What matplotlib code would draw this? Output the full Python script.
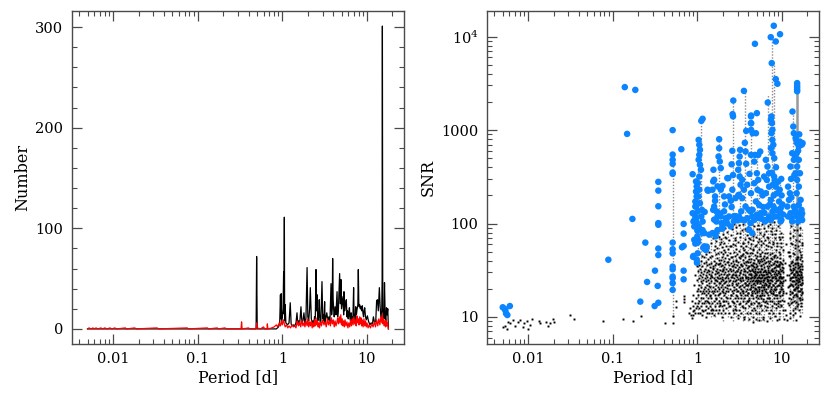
import numpy as np
import matplotlib
matplotlib.use("Agg")
import matplotlib.pyplot as plt
from matplotlib.ticker import FixedLocator, FixedFormatter, LogLocator, NullFormatter, MultipleLocator

plt.rcParams['font.family'] = ['DejaVu Serif']
plt.rcParams['mathtext.fontset'] = 'dejavuserif'

# ---------------- Left panel: histogram of periods ----------------
hist_period = [0.005, 0.3, 0.45, 0.49, 0.497, 0.505, 0.55, 0.85, 0.9, 0.93, 0.95, 0.96, 0.97, 0.98, 1.0, 1.02,
               1.036, 1.045, 1.056, 1.065, 1.08, 1.1, 1.15, 1.2, 1.24, 1.27, 1.3, 1.35, 1.4, 1.45, 1.49,
               1.52, 1.56, 1.6, 1.66, 1.7, 1.75, 1.8, 1.85, 1.9, 1.96, 2.0, 2.05, 2.1, 2.14, 2.2, 2.25,
               2.3, 2.35, 2.4, 2.45, 2.5, 2.54, 2.57, 2.62, 2.68, 2.73, 2.78, 2.85, 2.94, 3.0, 3.05, 3.1,
               3.16, 3.2, 3.25, 3.35, 3.45, 3.55, 3.65, 3.76, 3.82, 3.88, 3.93, 3.98, 4.05, 4.1, 4.2, 4.3,
               4.43, 4.5, 4.6, 4.75, 4.85, 4.93, 5.0, 5.1, 5.2, 5.3, 5.35, 5.45, 5.55, 5.7, 5.8, 5.9, 6.0,
               6.1, 6.2, 6.3, 6.4, 6.5, 6.6, 6.7, 6.8, 6.95, 7.05, 7.15, 7.25, 7.35, 7.5, 7.65, 7.8, 7.9,
               8.0, 8.1, 8.2, 8.35, 8.5, 8.65, 8.8, 8.95, 9.1, 9.25, 9.4, 9.6, 9.8, 10.1, 10.4, 10.8, 11.2,
               11.6, 11.9, 12.3, 12.7, 13.0, 13.3, 13.6, 14.0, 14.3, 14.6, 14.9, 15.1, 15.2, 15.35, 15.6,
               15.85, 16.1, 16.4, 16.7, 17.0, 17.3, 17.6, 17.9]
hist_all = [0, 0, 0, 0, 72, 0, 0, 0, 2, 5, 34, 10, 35, 8, 12, 20,
            57, 15, 111, 8, 24, 6, 4, 6, 26, 5, 3, 4, 3, 6, 16,
            5, 8, 4, 22, 6, 8, 16, 5, 10, 61, 12, 8, 20, 41, 10, 6,
            8, 5, 12, 10, 59, 18, 34, 8, 12, 29, 8, 6, 47, 10, 14, 8,
            27, 6, 10, 16, 8, 12, 7, 45, 14, 20, 70, 30, 18, 12, 22, 14,
            37, 12, 20, 55, 25, 49, 20, 26, 32, 14, 37, 18, 24, 29, 12, 18, 10,
            14, 21, 10, 8, 16, 8, 12, 6, 41, 10, 14, 9, 22, 14, 20, 24, 59,
            26, 22, 24, 20, 22, 18, 23, 16, 12, 18, 21, 12, 9, 13, 8, 4, 6,
            5, 12, 6, 8, 28, 29, 18, 41, 22, 12, 10, 50, 301, 20, 14,
            10, 46, 12, 8, 21, 14, 20, 0]

red_period = [0.005, 0.0052, 0.0055, 0.0058, 0.006, 0.0063, 0.0066, 0.0072, 0.0075, 0.008, 0.0085, 0.0092,
              0.0097, 0.0105, 0.011, 0.014, 0.0145, 0.018, 0.019, 0.033, 0.035, 0.075, 0.078, 0.13, 0.135,
              0.17, 0.175, 0.21, 0.22, 0.325, 0.33, 0.335, 0.4, 0.41, 0.49, 0.497, 0.505, 0.55, 0.6, 0.62,
              0.66, 0.665, 0.675,
              0.75, 0.8, 0.85, 0.88, 0.92, 0.95, 0.98, 1.0, 1.03, 1.056, 1.08, 1.12, 1.16, 1.2, 1.25, 1.3,
              1.35, 1.4, 1.45, 1.5, 1.55, 1.6, 1.65, 1.7, 1.75, 1.8, 1.85, 1.9, 1.96, 2.0, 2.05, 2.1, 2.15,
              2.2, 2.25, 2.3, 2.35, 2.4, 2.45, 2.5, 2.55, 2.6, 2.65, 2.7, 2.75, 2.8, 2.9, 3.0, 3.1, 3.2,
              3.3, 3.4, 3.5, 3.6, 3.7, 3.8, 3.9, 4.0, 4.1, 4.2, 4.3, 4.4, 4.5, 4.6, 4.7, 4.8, 4.9, 5.0,
              5.1, 5.2, 5.3, 5.4, 5.5, 5.65, 5.8, 5.95, 6.1, 6.25, 6.4, 6.55, 6.7, 6.85, 7.0, 7.15, 7.3,
              7.45, 7.6, 7.75, 7.9, 8.05, 8.2, 8.35, 8.5, 8.65, 8.8, 9.0, 9.2, 9.4, 9.6, 9.8, 10.0, 10.3,
              10.6, 11.0, 11.4, 11.8, 12.2, 12.6, 13.0, 13.4, 13.8, 14.2, 14.6, 15.0, 15.2, 15.4, 15.7,
              16.0, 16.3, 16.6, 16.9, 17.2, 17.5, 17.9]
red_count = [0, 1, 0, 1, 0, 1, 0, 1, 0, 1, 0, 1,
             0, 1, 0, 1, 0, 1, 0, 1, 0, 1, 0, 1, 0,
             1, 0, 1, 0, 0, 7, 0, 1, 0, 0, 6, 1, 0, 2, 0,
             0, 5, 0,
             1, 2, 4, 2, 6, 3, 8, 4, 9, 5, 2, 4, 1, 3, 1, 4,
             2, 3, 1, 8, 3, 7, 2, 9, 3, 6, 2, 8, 3, 10, 2, 7, 3,
             8, 1, 6, 2, 9, 3, 11, 4, 8, 2, 6, 1, 7, 3, 9, 4, 7,
             2, 10, 4, 8, 3, 11, 5, 9, 2, 8, 3, 6, 11, 5, 12, 6, 14, 4,
             10, 3, 8, 2, 9, 3, 7, 1, 6, 2, 9, 3, 10, 4, 12, 5, 9,
             3, 13, 6, 10, 4, 12, 5, 11, 3, 9, 2, 10, 3, 8, 2, 6, 1,
             4, 1, 5, 2, 7, 2, 9, 3, 10, 4, 12, 6, 15, 5, 10,
             3, 8, 2, 9, 3, 6, 0]

# ---------------- Right panel: SNR vs period ----------------
black_pts = [
    (0.00508, 7.8), (0.0054, 8.0), (0.00566, 7.4), (0.00582, 8.9), (0.0062, 8.6), (0.00667, 9.3), (0.0071, 8.0),
    (0.00755, 8.9), (0.00813, 9.3), (0.00875, 7.8), (0.00906, 8.6), (0.0096, 9.1), (0.00993, 7.5), (0.01067, 8.15),
    (0.0112, 9.45), (0.01337, 9.1), (0.01374, 8.6), (0.0165, 8.8), (0.0171, 8.0), (0.01837, 8.6), (0.0198, 9.45),
    (0.0201, 8.8), (0.0317, 10.4), (0.0347, 9.45), (0.0762, 9.1), (0.1327, 9.45), (0.174, 9.0), (0.218, 10.3),
    (0.419, 8.7), (0.511, 10.3), (0.511, 8.7), (0.565, 15), (0.565, 12.7), (0.689, 16.8), (0.689, 15.7), (0.689, 14.6),
    (0.80, 11), (0.82, 12.5), (0.84, 10.5), (0.86, 9.8), (0.87, 15),
    (0.88, 11.5), (0.89, 13), (0.9, 10.5), (0.9, 17), (0.91, 12), (0.92, 22), (0.93, 14), (0.94, 11), (0.95, 28),
    (0.96, 16), (0.97, 12.5), (0.98, 35), (0.99, 19), (0.99, 13), (1.0, 25),
    (1.01, 14), (1.01, 31), (1.02, 20), (1.02, 11), (1.03, 42), (1.03, 17), (1.04, 26), (1.04, 12.5), (1.05, 36),
    (1.05, 22), (1.06, 15), (1.06, 48), (1.07, 19), (1.07, 28), (1.08, 11), (1.08, 33), (1.09, 24), (1.09, 16),
    (1.10, 40), (1.10, 13), (1.11, 21), (1.11, 30), (1.12, 18), (1.12, 10.5), (1.13, 27), (1.13, 45), (1.14, 14),
    (1.14, 23), (1.15, 35), (1.15, 12), (1.16, 19), (1.16, 29), (1.17, 16), (1.17, 52), (1.18, 25), (1.18, 11.5),
    (1.19, 38), (1.19, 20), (1.20, 14), (1.20, 31),
    (1.21, 18), (1.21, 44), (1.22, 12), (1.22, 26), (1.23, 33), (1.23, 15), (1.24, 58), (1.24, 21), (1.25, 10),
    (1.25, 28), (1.26, 17), (1.26, 39), (1.27, 24), (1.27, 13), (1.28, 47), (1.28, 19), (1.29, 30), (1.29, 11),
    (1.30, 22), (1.30, 36), (1.31, 15), (1.31, 27), (1.32, 55), (1.32, 18), (1.33, 12.5), (1.33, 32), (1.34, 25),
    (1.34, 42), (1.35, 16), (1.35, 20), (1.36, 11), (1.36, 29), (1.37, 37), (1.37, 14), (1.38, 23), (1.38, 50),
    (1.39, 19), (1.39, 31), (1.40, 13), (1.40, 26), (1.41, 44), (1.42, 17), (1.42, 34), (1.43, 21), (1.44, 12),
    (1.44, 28),
    (1.45, 38), (1.46, 16), (1.46, 62), (1.47, 24), (1.48, 11), (1.48, 30), (1.49, 19), (1.50, 45), (1.50, 14),
    (1.51, 27), (1.52, 35), (1.52, 21), (1.53, 70), (1.54, 12), (1.54, 33), (1.55, 18), (1.56, 26), (1.56, 52),
    (1.57, 15), (1.58, 40), (1.58, 23), (1.59, 10.5), (1.60, 29), (1.60, 17), (1.61, 58), (1.62, 36), (1.62, 20),
    (1.63, 13), (1.64, 47), (1.64, 25), (1.65, 31), (1.66, 16), (1.66, 22), (1.67, 65), (1.68, 12), (1.68, 38),
    (1.69, 27), (1.70, 19), (1.70, 43), (1.71, 14), (1.72, 33), (1.72, 24), (1.73, 55), (1.74, 11), (1.74, 21),
    (1.75, 30), (1.76, 17), (1.76, 48), (1.77, 26), (1.78, 13), (1.78, 37), (1.79, 72), (1.79, 20), (1.80, 28),
    (1.80, 15),
    (1.81, 41), (1.82, 23), (1.82, 12), (1.83, 60), (1.84, 18), (1.84, 32), (1.85, 26), (1.86, 14), (1.86, 85),
    (1.87, 38), (1.88, 21), (1.88, 11), (1.89, 50), (1.90, 29), (1.90, 16), (1.91, 35), (1.92, 24), (1.92, 68),
    (1.93, 13), (1.94, 44), (1.94, 19), (1.95, 31), (1.96, 10), (1.96, 27), (1.97, 56), (1.98, 22), (1.98, 36),
    (1.99, 15), (2.00, 78), (2.00, 25), (2.01, 33), (2.02, 12), (2.02, 47), (2.03, 20), (2.04, 29), (2.05, 17),
    (2.05, 62), (2.06, 40), (2.07, 23), (2.08, 13.5), (2.08, 34), (2.09, 52), (2.10, 26), (2.11, 18), (2.11, 90),
    (2.12, 30), (2.13, 11), (2.14, 43), (2.14, 21), (2.15, 37), (2.16, 15), (2.17, 58), (2.17, 27), (2.18, 24),
    (2.19, 70), (2.20, 19), (2.20, 33), (2.21, 12.5), (2.22, 46), (2.23, 28), (2.24, 16), (2.25, 39), (2.26, 22),
    (2.27, 82), (2.28, 31),
    (2.30, 14), (2.31, 26), (2.32, 53), (2.33, 19), (2.34, 36), (2.35, 11), (2.36, 29), (2.37, 66), (2.38, 22),
    (2.39, 42), (2.40, 16), (2.41, 33), (2.42, 95), (2.43, 25), (2.44, 13), (2.45, 48), (2.46, 20), (2.47, 31),
    (2.48, 75), (2.49, 17), (2.50, 38), (2.51, 27), (2.52, 10), (2.53, 57), (2.54, 23), (2.55, 35), (2.56, 15),
    (2.57, 44), (2.58, 28), (2.59, 88), (2.60, 19), (2.61, 32), (2.62, 12), (2.63, 61), (2.64, 24), (2.65, 40),
    (2.66, 18), (2.67, 29), (2.68, 100), (2.69, 14), (2.70, 50), (2.71, 26), (2.72, 21), (2.73, 37), (2.74, 11),
    (2.75, 70), (2.76, 30), (2.77, 16), (2.78, 45), (2.79, 24), (2.80, 34), (2.81, 13), (2.82, 59), (2.83, 20),
    (2.84, 28), (2.85, 92), (2.86, 17), (2.87, 41), (2.88, 25), (2.89, 12), (2.90, 54), (2.91, 31), (2.92, 22),
    (2.93, 36), (2.94, 15), (2.95, 80), (2.96, 27), (2.97, 19), (2.98, 47), (2.99, 10.5), (3.00, 33),
    (3.02, 23), (3.03, 64), (3.05, 16), (3.06, 39), (3.07, 28), (3.09, 12), (3.10, 51), (3.11, 21), (3.13, 34),
    (3.14, 96), (3.15, 18), (3.17, 43), (3.18, 26), (3.20, 14), (3.21, 72), (3.22, 30), (3.24, 20), (3.25, 37),
    (3.27, 11), (3.28, 57), (3.29, 24), (3.31, 32), (3.32, 17), (3.34, 85), (3.35, 46), (3.36, 27), (3.38, 13),
    (3.39, 35), (3.41, 22), (3.42, 62), (3.44, 19), (3.45, 29), (3.46, 41), (3.48, 15), (3.49, 100), (3.51, 25),
    (3.52, 33), (3.54, 10), (3.55, 52), (3.57, 21), (3.58, 38), (3.60, 16), (3.61, 68), (3.63, 28), (3.64, 23),
    (3.66, 44), (3.67, 12.5), (3.69, 31), (3.70, 88), (3.72, 19), (3.73, 36), (3.75, 26), (3.76, 14), (3.78, 58),
    (3.79, 22), (3.81, 40), (3.82, 17), (3.84, 30), (3.85, 76), (3.87, 24), (3.88, 11), (3.90, 48), (3.91, 20),
    (3.93, 34), (3.94, 15), (3.96, 63), (3.97, 27), (3.99, 39), (3.05, 9.8), (3.6, 9.5), (3.3, 45), (3.5, 18),
    (3.8, 27), (3.15, 25), (3.45, 55), (3.75, 50), (3.95, 22),
    (4.01, 18), (4.02, 92), (4.04, 29), (4.05, 13), (4.07, 45), (4.08, 23), (4.10, 35), (4.12, 16), (4.13, 70),
    (4.15, 26), (4.16, 39), (4.18, 20), (4.20, 11), (4.21, 55), (4.23, 31), (4.24, 24), (4.26, 85), (4.28, 17),
    (4.29, 42), (4.31, 28), (4.33, 14), (4.34, 60), (4.36, 22), (4.37, 36), (4.39, 19), (4.41, 100), (4.42, 27),
    (4.44, 12), (4.46, 48), (4.47, 33), (4.49, 21), (4.51, 66), (4.52, 16), (4.54, 38), (4.56, 25), (4.57, 10),
    (4.59, 52), (4.61, 30), (4.62, 19), (4.64, 78), (4.66, 23), (4.67, 41), (4.69, 14), (4.71, 34), (4.72, 95),
    (4.74, 27), (4.76, 18), (4.78, 46), (4.79, 22), (4.81, 12), (4.83, 58), (4.84, 31), (4.86, 24), (4.88, 37),
    (4.90, 15), (4.91, 72), (4.93, 28), (4.95, 20), (4.97, 43), (4.98, 11), (5.00, 88), (5.02, 26), (5.04, 35),
    (5.05, 17), (5.07, 50), (5.09, 23), (5.11, 30), (5.12, 13), (5.14, 64), (5.16, 21), (5.18, 40), (5.20, 16),
    (4.05, 32), (4.15, 48), (4.25, 21), (4.35, 29), (4.45, 17), (4.55, 31), (4.65, 26), (4.75, 33), (4.85, 20),
    (4.95, 29), (5.05, 24), (5.15, 27), (4.1, 9.5), (4.5, 8.8), (4.9, 9.6), (4.3, 26), (4.6, 35), (4.8, 28),
    (5.1, 19),
    (5.22, 33), (5.24, 97), (5.26, 25), (5.28, 14), (5.30, 54), (5.32, 20), (5.34, 38), (5.36, 28), (5.39, 11),
    (5.41, 68), (5.43, 23), (5.45, 31), (5.47, 17), (5.49, 45), (5.51, 80), (5.54, 26), (5.56, 13), (5.58, 36),
    (5.60, 21), (5.62, 59), (5.65, 29), (5.67, 16), (5.69, 42), (5.71, 24), (5.74, 100), (5.76, 19), (5.78, 33),
    (5.80, 12), (5.83, 50), (5.85, 27), (5.87, 22), (5.90, 74), (5.92, 15), (5.94, 37), (5.97, 25), (5.99, 30),
    (6.02, 10), (6.04, 62), (6.07, 20), (6.09, 41), (6.12, 28), (6.14, 17), (6.17, 90), (6.19, 34), (6.22, 23),
    (6.24, 13), (6.27, 48), (6.29, 26), (6.32, 19), (6.34, 66), (6.37, 31), (6.40, 15), (6.42, 39), (6.45, 22),
    (6.48, 84), (6.50, 27), (6.53, 12), (6.55, 53), (6.58, 18), (6.61, 35), (6.63, 24), (6.66, 71), (6.69, 29),
    (6.72, 14), (6.74, 44), (6.77, 21), (6.80, 95), (6.83, 32), (6.86, 17), (6.89, 57), (6.91, 25), (6.94, 11),
    (6.97, 38), (5.3, 24), (5.5, 30), (5.7, 26), (5.9, 21), (6.1, 25), (6.3, 32), (6.5, 20), (6.7, 27), (6.9, 30),
    (5.4, 19), (5.6, 35), (5.8, 18), (6.0, 28), (6.2, 22), (6.4, 30), (6.6, 16), (6.8, 24), (5.35, 9.2),
    (5.95, 9.6), (6.6, 9.0), (5.25, 41), (5.55, 47), (5.85, 40), (6.15, 45), (6.45, 43), (6.75, 40),
    (7.00, 22), (7.04, 64), (7.08, 30), (7.12, 16), (7.16, 47), (7.20, 25), (7.24, 100), (7.28, 19), (7.32, 36),
    (7.36, 12), (7.40, 56), (7.44, 28), (7.48, 21), (7.52, 78), (7.56, 33), (7.60, 15), (7.64, 42), (7.68, 24),
    (7.72, 90), (7.76, 18), (7.80, 31), (7.84, 11), (7.88, 60), (7.92, 27), (7.96, 38), (8.00, 20), (8.04, 105),
    (8.08, 14), (8.12, 45), (8.16, 26), (8.20, 34), (8.24, 17), (8.28, 70), (8.32, 23), (8.36, 40), (8.40, 12.5),
    (8.45, 52), (8.50, 29), (8.55, 20), (8.60, 86), (8.65, 35), (8.70, 16), (8.75, 44), (8.80, 25), (8.85, 62),
    (8.90, 13), (8.95, 31), (9.00, 22), (9.05, 95), (9.10, 37), (9.15, 18), (9.20, 50), (9.25, 27), (9.30, 11),
    (9.35, 68), (9.40, 24), (9.45, 33), (9.50, 15), (9.55, 47), (9.60, 29), (9.65, 80), (9.70, 20), (9.75, 38),
    (9.80, 13), (9.85, 56), (9.90, 26), (9.95, 34), (10.0, 17), (10.05, 72), (10.1, 23), (10.15, 41), (10.2, 12),
    (10.25, 30), (10.3, 52), (10.35, 19), (10.4, 27), (10.45, 9.5), (7.1, 27), (7.3, 23), (7.5, 32), (7.7, 27),
    (7.9, 22), (8.1, 29), (8.3, 30), (8.5, 24), (8.7, 28), (8.9, 35), (9.1, 26), (9.3, 30), (9.5, 23), (9.7, 27),
    (9.9, 22), (7.2, 40), (7.6, 48), (8.0, 44), (8.4, 36), (8.8, 40), (9.2, 35), (9.6, 39), (10.0, 32), (7.4, 18),
    (7.8, 19), (8.2, 21), (8.6, 17), (9.0, 15), (9.4, 19), (9.8, 21), (7.3, 9.8), (8.3, 10.2), (9.3, 9.6),
    (8.8, 9.2),
    (10.6, 15), (10.8, 25), (10.9, 12), (11.0, 38), (11.2, 18), (11.3, 10.5), (11.5, 28), (11.7, 14), (11.8, 50),
    (11.9, 21), (11.6, 9.2), (11.1, 60),
    (12.0, 16), (12.1, 45), (12.2, 28), (12.3, 11), (12.4, 70), (12.5, 22), (12.6, 35), (12.7, 14), (12.8, 95),
    (12.9, 26), (13.0, 40), (13.1, 18), (13.2, 60), (13.3, 30), (13.4, 12), (13.5, 48), (13.6, 24), (13.7, 85),
    (13.8, 20), (13.9, 33), (14.0, 15), (14.1, 55), (14.2, 27), (14.3, 38), (14.4, 11), (14.5, 66), (14.6, 23),
    (14.7, 31), (14.8, 17), (14.9, 100), (15.0, 44), (15.1, 25), (15.2, 13), (15.3, 36), (15.4, 58), (15.5, 21),
    (15.6, 29), (15.7, 16), (15.8, 75), (15.9, 34), (16.0, 24), (16.1, 12), (16.2, 50), (16.3, 27), (16.4, 19),
    (16.5, 90), (16.6, 37), (16.7, 22), (16.8, 14), (16.9, 46), (17.0, 30), (17.1, 18), (17.2, 62), (17.3, 25),
    (17.4, 40), (12.2, 50), (12.6, 26), (13.0, 22), (13.4, 32), (13.8, 28), (14.2, 20), (14.6, 42), (15.0, 30),
    (15.4, 19), (15.8, 24), (16.2, 33), (16.6, 26), (17.0, 20), (12.4, 33), (12.8, 38), (13.2, 27), (13.6, 36),
    (14.0, 29), (14.4, 34), (14.8, 25), (15.2, 38), (15.6, 44), (16.0, 31), (16.4, 42), (16.8, 28), (17.2, 35),
    (12.5, 9.8), (13.5, 10.5), (14.5, 9.4), (16.5, 10.2), (12.3, 19), (13.1, 24), (13.9, 17), (14.7, 21),
    (15.5, 26), (16.3, 16), (17.1, 23),
]

black_pts_extra = [
    (1.32, 14.6), (1.37, 21.3), (1.43, 16.8), (1.47, 27.4), (1.51, 12.3), (1.55, 33.7), (1.58, 19.2), (1.63, 24.6),
    (1.67, 15.4), (1.71, 29.8), (1.75, 36.5), (1.78, 17.7), (1.83, 22.9), (1.87, 13.6), (1.91, 41.2), (1.95, 25.3),
    (1.99, 18.4), (2.03, 31.6), (2.07, 14.9), (2.11, 23.7), (2.15, 49.1), (2.19, 16.2), (2.23, 27.9), (2.27, 20.6),
    (2.31, 38.3), (2.35, 13.2), (2.39, 24.1), (2.43, 32.8), (2.47, 17.3), (2.51, 43.6), (2.55, 21.8), (2.59, 26.7),
    (2.63, 14.3), (2.67, 35.2), (2.71, 19.6), (2.75, 28.4), (2.79, 12.1), (2.83, 39.7), (2.87, 22.6), (2.91, 16.7),
    (2.95, 30.9), (2.99, 25.8), (3.04, 18.9), (3.08, 44.3), (3.12, 13.7), (3.16, 29.2), (3.21, 21.4), (3.26, 35.9),
    (3.31, 15.8), (3.36, 26.3), (3.41, 19.1), (3.46, 47.6), (3.51, 12.8), (3.56, 31.2), (3.61, 23.3), (3.66, 17.4),
    (3.71, 38.8), (3.76, 27.1), (3.81, 14.7), (3.86, 21.9), (3.91, 33.4), (3.96, 18.2), (4.02, 25.6), (4.07, 41.8),
    (4.12, 15.3), (4.17, 28.7), (4.22, 19.8), (4.27, 36.2), (4.32, 13.9), (4.37, 24.4), (4.42, 31.7), (4.47, 17.9),
    (4.52, 53.3), (4.57, 22.4), (4.62, 27.6), (4.67, 12.6), (4.72, 38.1), (4.77, 20.3), (4.82, 29.4), (4.87, 16.4),
    (4.92, 25.1), (4.97, 34.6), (5.03, 18.7), (5.08, 45.2), (5.13, 23.8), (5.19, 14.1), (5.25, 30.3), (5.31, 21.1),
    (5.37, 26.9), (5.43, 16.9), (5.49, 39.4), (5.55, 24.2), (5.61, 13.4), (5.67, 32.3), (5.73, 19.4), (5.79, 28.1),
    (5.85, 17.1), (5.91, 23.6), (5.97, 43.1), (6.03, 15.6), (6.09, 31.1), (6.15, 20.8), (6.21, 26.1), (6.27, 37.4),
    (6.33, 14.4), (6.39, 22.7), (6.45, 29.1), (6.51, 18.3), (6.57, 48.7), (6.63, 25.4), (6.69, 12.9), (6.75, 33.1),
    (6.81, 21.6), (6.87, 27.3), (6.93, 16.1), (7.02, 35.4), (7.09, 23.1), (7.16, 18.8), (7.23, 29.6), (7.3, 14.8),
    (7.37, 42.4), (7.44, 24.7), (7.51, 19.9), (7.58, 31.4), (7.65, 13.1), (7.72, 26.4), (7.79, 36.7), (7.86, 17.6),
    (7.93, 22.2), (8.02, 33.8), (8.1, 15.9), (8.18, 27.7), (8.26, 46.1), (8.34, 19.3), (8.42, 25.9), (8.5, 13.8),
    (8.58, 31.9), (8.66, 21.2), (8.74, 38.6), (8.82, 17.2), (8.9, 24.9), (8.98, 29.9), (9.06, 14.2), (9.14, 35.7),
    (9.22, 22.1), (9.3, 18.6), (9.38, 27.2), (9.46, 42.9), (9.54, 16.6), (9.62, 23.4), (9.7, 31.3), (9.78, 13.3),
    (9.86, 26.2), (9.94, 19.7), (10.02, 37.1), (10.1, 15.2), (10.18, 24.3), (10.26, 18.1), (10.34, 33.2),
    (12.05, 21.7), (12.15, 13.6), (12.25, 35.8), (12.35, 24.8), (12.45, 17.8), (12.55, 44.7), (12.65, 29.3),
    (12.75, 15.7), (12.85, 22.3), (12.95, 31.8), (13.05, 18.6), (13.15, 39.2), (13.25, 14.6), (13.35, 26.6),
    (13.45, 21.4), (13.55, 33.6), (13.65, 16.3), (13.75, 28.8), (13.85, 47.3), (13.95, 19.4), (14.05, 24.5),
    (14.15, 12.4), (14.25, 36.6), (14.35, 22.8), (14.45, 17.5), (14.55, 30.4), (14.65, 26.8), (14.75, 14.3),
    (14.85, 41.6), (14.95, 20.4), (15.05, 28.3), (15.15, 16.8), (15.25, 33.3), (15.35, 23.9), (15.45, 13.7),
    (15.55, 37.9), (15.65, 21.9), (15.75, 27.8), (15.85, 18.9), (15.95, 52.4), (16.05, 25.7), (16.15, 15.1),
    (16.25, 30.7), (16.35, 22.6), (16.45, 35.3), (16.55, 17.4), (16.65, 28.6), (16.75, 20.1), (16.85, 43.4),
    (16.95, 13.2), (17.05, 26.9), (17.15, 32.4), (17.25, 18.3), (17.35, 23.2), (17.45, 15.6),
    (1.9, 63.4), (2.1, 71.8), (2.45, 57.3), (2.8, 66.2), (3.15, 78.9), (3.5, 61.7), (3.85, 83.6), (4.2, 68.4),
    (4.55, 74.2), (4.9, 59.6), (5.3, 87.1), (5.7, 64.8), (6.1, 77.3), (6.5, 58.4), (6.9, 69.5), (7.35, 82.4),
    (7.8, 63.1), (8.3, 76.6), (8.8, 57.8), (9.3, 72.3), (9.8, 61.2), (12.3, 79.4), (12.9, 62.6), (13.6, 73.7),
    (14.3, 58.9), (15.0, 84.8), (15.7, 65.3), (16.4, 76.1), (17.1, 59.3),
]

# vertical streaks of grey points (period, lowest SNR, highest SNR)
grey_period = [0.511, 1.02, 1.10, 1.25, 1.45, 1.6, 1.8, 2.0, 2.3, 2.62, 2.9, 3.2, 3.45, 3.7, 4.0, 4.3, 4.6,
               5.1, 5.3, 5.6, 6.2, 6.8, 7.2, 7.7, 8.1, 8.6, 9.1, 9.5, 10.2, 12.4, 13.5, 14.2, 16.4, 17.2]
grey_lo = [10, 12, 15, 12, 10, 10, 12, 9, 10, 9, 10, 10, 9, 10, 9, 10, 9,
           9, 9, 9, 9, 10, 10, 9, 10, 10, 10, 10, 10, 10, 9, 11, 11, 11]
grey_hi = [550, 800, 1300, 60, 80, 90, 800, 100, 90, 2100, 100, 650, 100, 2600, 110, 1400, 100,
           500, 200, 100, 100, 2400, 100, 10000, 5000, 100, 100, 300, 80, 100, 1600, 100, 100, 90]
strong_period = [15.1]
strong_lo = [12]
strong_hi = [3200]

blue_pts = [
    (0.00503, 12.7), (0.0053, 12.2), (0.0055, 10.9), (0.0057, 10.5), (0.0061, 13.1), (0.0054, 11.8),
    (0.0889, 41), (0.139, 2880), (0.148, 910), (0.185, 2690), (0.171, 112), (0.212, 14.6), (0.243, 62.5),
    (0.255, 23.7), (0.313, 13.1), (0.316, 31.3), (0.340, 21.5), (0.346, 14.2),
    (0.346, 279), (0.346, 225), (0.346, 153), (0.346, 101), (0.346, 97), (0.346, 54), (0.346, 46),
    (0.511, 998), (0.511, 547), (0.511, 480), (0.511, 435), (0.511, 351), (0.511, 340), (0.511, 62.5),
    (0.511, 53), (0.511, 48), (0.511, 34.6), (0.511, 32.4), (0.511, 27), (0.511, 26), (0.511, 23), (0.511, 19.5),
    (0.647, 624), (0.689, 99), (0.689, 78), (0.659, 55.7), (0.689, 57.5), (0.689, 31.3), (0.689, 25.3),
    (0.88, 337), (0.88, 129), (0.89, 44), (0.90, 105), (0.92, 93), (0.92, 67), (0.947, 152), (0.965, 110),
    (0.965, 62),
    (1.036, 785), (1.055, 695), (1.074, 614), (1.055, 543), (1.036, 481), (1.074, 425), (1.104, 376),
    (1.055, 318), (0.965, 282), (1.018, 271), (0.982, 249), (1.055, 230), (0.965, 220), (0.982, 195),
    (1.036, 195), (0.947, 172), (1.074, 165), (0.965, 152), (1.009, 135), (1.134, 140), (0.947, 119),
    (1.114, 119), (0.92, 108), (1.154, 105), (0.982, 101), (1.036, 93), (1.154, 79), (1.0, 73), (1.018, 67),
    (0.947, 61), (1.207, 57), (1.175, 55), (1.263, 52), (1.24, 55), (0.90, 45), (0.982, 41), (1.055, 88),
    (1.0, 84), (1.02, 63), (1.01, 48), (0.99, 38),
    (1.114, 1254), (1.154, 1320), (1.32, 230), (1.357, 226), (1.29, 56.6), (1.24, 54), (1.155, 85), (1.33, 225),
    (1.22, 133), (1.21, 79), (1.38, 76), (1.51, 79), (1.65, 79),
    (1.55, 376), (1.58, 294), (1.51, 230), (1.62, 195), (1.73, 250), (1.89, 230), (1.98, 253), (2.07, 195),
    (1.81, 129), (1.94, 101), (1.58, 110), (1.81, 798), (1.81, 639), (1.78, 521), (1.84, 461), (1.89, 391),
    (1.54, 282), (1.62, 175), (1.58, 152), (1.54, 140), (1.68, 135), (1.73, 119), (1.68, 105),
    (2.07, 135), (2.16, 114), (1.89, 119), (1.98, 93), (2.37, 119), (2.48, 93), (2.12, 160), (2.26, 306),
    (2.32, 306), (2.37, 195), (2.20, 110), (1.65, 73), (1.73, 85), (1.98, 88), (2.26, 100),
    (2.66, 2070), (2.61, 1480), (2.64, 1400), (2.59, 600), (2.54, 430), (2.64, 330), (2.59, 230), (2.83, 187),
    (3.10, 203), (3.39, 187), (3.55, 230), (2.48, 175), (2.54, 150), (2.71, 120), (2.96, 110),
    (3.2, 614), (3.16, 521), (3.1, 443), (3.04, 376), (3.16, 318), (3.39, 294), (3.24, 260), (3.04, 200),
    (3.71, 152), (4.06, 140), (3.10, 119), (3.39, 110), (3.88, 114), (4.24, 135), (4.45, 119), (4.24, 101),
    (4.06, 86), (4.45, 79), (3.55, 2625), (4.32, 1430), (4.32, 1183), (4.32, 1004), (3.78, 980), (3.64, 730),
    (3.78, 436), (3.71, 590), (4.13, 340), (3.88, 260), (2.83, 120), (3.0, 108), (3.3, 135), (3.6, 108), (2.7, 106),
    (4.79, 8370), (5.05, 1517), (4.30, 1398), (4.30, 1185), (4.50, 925), (4.92, 925), (4.30, 542), (4.79, 542),
    (5.24, 542), (4.70, 460), (5.53, 589), (5.05, 345), (5.24, 293), (4.70, 270), (4.30, 211), (5.14, 229),
    (5.63, 220), (4.92, 172), (5.38, 158), (4.50, 140), (5.05, 124), (5.63, 129), (4.70, 109), (5.38, 114),
    (6.15, 318), (6.44, 480), (6.74, 407), (7.05, 345), (6.62, 293), (7.05, 248), (6.44, 211), (7.38, 179),
    (6.74, 152), (7.71, 134), (7.05, 119), (6.44, 109), (6.0, 150), (5.8, 112), (6.2, 130), (5.9, 200), (6.3, 105),
    (8.0, 13060), (7.37, 9860), (8.44, 8870), (9.48, 10600), (7.57, 5200), (8.44, 3510), (8.83, 3130), (6.79, 1970),
    (7.5, 1398), (7.4, 1285), (7.6, 1185), (7.7, 1005), (7.5, 925), (7.7, 785), (7.9, 695), (7.4, 640),
    (7.7, 565), (8.1, 500), (8.07, 318), (8.44, 248), (8.83, 211), (9.23, 172), (9.66, 146), (8.83, 119),
    (9.84, 109), (9.48, 134), (7.93, 152), (8.22, 119), (7.38, 109), (8.5, 400), (8.2, 290), (7.8, 260),
    (7.6, 350), (9.0, 280), (9.4, 230), (9.8, 300), (10.1, 160), (10.3, 125), (9.9, 200), (9.6, 105), (8.6, 140),
    (8.0, 200), (7.2, 160),
    (13.3, 1578), (15.1, 3180), (15.1, 3000), (15.1, 2850), (15.1, 2700), (15.1, 2600), (13.6, 1091), (13.8, 925),
    (14.5, 817), (14.9, 753), (15.1, 723), (15.8, 667), (16.6, 723), (16.3, 753), (13.2, 565), (14.9, 565),
    (15.8, 480), (13.8, 480), (12.6, 407), (15.1, 407), (14.5, 345), (16.3, 345), (15.1, 293), (15.8, 248),
    (14.9, 211), (12.4, 211), (11.8, 248), (12.1, 179), (16.6, 179), (11.56, 152), (15.8, 158), (12.6, 129),
    (16.6, 129), (15.1, 119), (11.8, 119), (17.3, 109), (13.2, 105), (14.5, 129), (16.9, 119), (13.8, 152),
    (15.5, 105), (12.9, 190), (14.2, 140), (17.0, 140), (16.0, 110), (13.0, 115), (14.0, 330), (12.8, 300),
    (16.8, 700), (17.2, 700), (17.5, 725), (17.3, 128), (16.0, 900), (15.5, 600), (14.3, 520),
]

black_period, black_snr = zip(*(black_pts + black_pts_extra))
blue_period, blue_snr = zip(*blue_pts)

# ---------------- Figure ----------------
fig = plt.figure(figsize=(8.30, 3.96), dpi=100)
axL = fig.add_axes([0.0864, 0.1313, 0.4004, 0.841])
axR = fig.add_axes([0.5864, 0.1313, 0.4004, 0.841])

frame_col = '#4a4a4a'
xlim = (0.00325, 27.4)

def style(ax):
    for s in ax.spines.values():
        s.set_color(frame_col)
        s.set_linewidth(1.0)
    ax.tick_params(which='both', direction='in', top=True, right=True, color=frame_col,
                   labelsize=10.5, pad=6)
    ax.tick_params(which='major', length=7, width=0.9)
    ax.tick_params(which='minor', length=3.5, width=0.8)
    ax.set_xscale('log')
    ax.set_xlim(*xlim)
    ax.xaxis.set_major_locator(FixedLocator([0.01, 0.1, 1, 10]))
    ax.xaxis.set_major_formatter(FixedFormatter(['0.01', '0.1', '1', '10']))
    ax.xaxis.set_minor_locator(LogLocator(base=10, subs=np.arange(2, 10), numticks=20))
    ax.xaxis.set_minor_formatter(NullFormatter())
    ax.set_xlabel('Period [d]', fontsize=11.5, labelpad=2)

# left
style(axL)
axL.plot(hist_period, hist_all, color='black', lw=0.9)
axL.plot(red_period, red_count, color='#ff0000', lw=0.9)
axL.set_ylim(-15, 316)
axL.yaxis.set_major_locator(FixedLocator([0, 100, 200, 300]))
axL.yaxis.set_minor_locator(MultipleLocator(20))
axL.set_ylabel('Number', fontsize=11.5, labelpad=3)

# right
style(axR)
axR.set_yscale('log')
axR.set_ylim(5.14, 18800)
axR.vlines(grey_period, grey_lo, grey_hi, colors='#8c8c8c', lw=1.0, linestyles=(0, (1, 1.2)), zorder=1)
axR.vlines(strong_period, strong_lo, strong_hi, colors='#999999', lw=1.8, zorder=1)
axR.plot(black_period, black_snr, 's', color='black', ms=1.4, mew=0, zorder=2)
axR.scatter(blue_period, blue_snr, s=22, color='#0a84ff', edgecolors='none', zorder=3)
axR.yaxis.set_major_locator(FixedLocator([10, 100, 1000, 10000]))
axR.yaxis.set_major_formatter(FixedFormatter(['10', '100', '1000', r'$10^4$']))
axR.yaxis.set_minor_locator(LogLocator(base=10, subs=np.arange(2, 10), numticks=20))
axR.yaxis.set_minor_formatter(NullFormatter())
axR.set_ylabel('SNR', fontsize=11.5, labelpad=3)

fig.savefig('out.png', dpi=100)
